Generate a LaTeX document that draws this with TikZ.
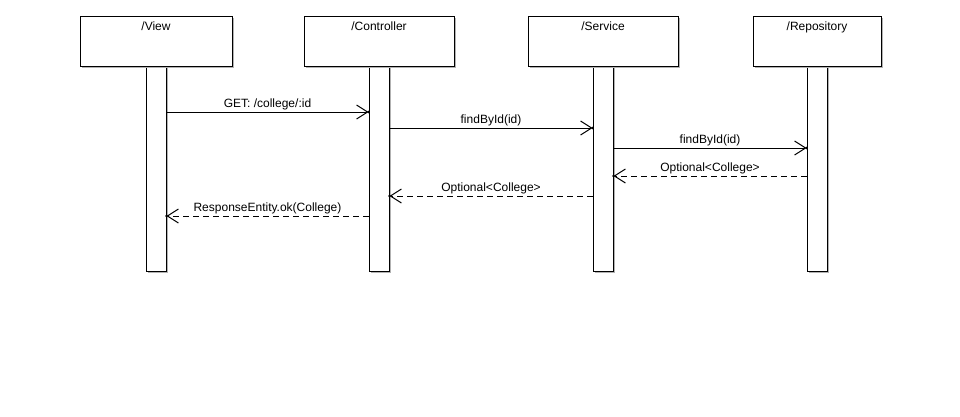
\documentclass[tikz,border=0pt]{standalone}
\usepackage{fontspec}
\setmainfont{Liberation Sans}
\usetikzlibrary{arrows.meta,shadows}
\begin{document}
\begin{tikzpicture}[x=1pt,y=-1pt,
  shade box/.style={draw=black,line width=1pt,fill=white,inner sep=0pt,
    drop shadow={shadow xshift=1.5pt,shadow yshift=-1.5pt,fill=black!30,opacity=1}},
  lifebox/.style={shade box,minimum height=50pt},
  actbar/.style={shade box,minimum width=20pt,minimum height=205pt},
  title/.style={anchor=base,inner sep=0pt,font=\fontsize{12}{14}\selectfont},
  msglabel/.style={pos=0.5,anchor=base,yshift=5pt,inner sep=0pt,font=\fontsize{12}{14}\selectfont},
  call/.style={line width=1pt,-{Straight Barb[length=11pt,width=14pt,line width=1pt]}},
  reply/.style={call,dash pattern=on 6pt off 4pt},
  tipdot/.style={fill=black}
]
\useasboundingbox[fill=white] (0,0) rectangle (960,416);

% activation bars
\node[actbar] (viewbar) at (156,168.5) {};
\node[actbar] (ctrlbar) at (379,168.5) {};
\node[actbar] (svcbar)  at (603,168.5) {};
\node[actbar] (repobar) at (817,168.5) {};

% lifeline heads
\node[lifebox,minimum width=152pt] (view) at (156,41) {};
\node[lifebox,minimum width=150pt] (ctrl) at (379,41) {};
\node[lifebox,minimum width=150pt] (svc)  at (603,41) {};
\node[lifebox,minimum width=128pt] (repo) at (817,41) {};

\node[title] (viewt) at (156,30.5) {/View};
\node[title] (ctrlt) at (379,30.5) {/Controller};
\node[title] (svct)  at (603,30.5) {/Service};
\node[title] (repot) at (817,30.5) {/Repository};

% message end points
\coordinate (m1s) at (viewbar.east |- 0,112);
\coordinate (m1e) at (ctrlbar.west |- 0,112);
\coordinate (m2s) at (ctrlbar.east |- 0,128);
\coordinate (m2e) at (svcbar.west |- 0,128);
\coordinate (m3s) at (svcbar.east |- 0,148);
\coordinate (m3e) at (repobar.west |- 0,148);
\coordinate (m4s) at (repobar.west |- 0,176);
\coordinate (m4e) at (svcbar.east |- 0,176);
\coordinate (m5s) at (svcbar.west |- 0,196);
\coordinate (m5e) at (ctrlbar.east |- 0,196);
\coordinate (m6s) at (ctrlbar.west |- 0,216);
\coordinate (m6e) at (viewbar.east |- 0,216);

\draw[call]  (m1s) -- (m1e) node[msglabel] {GET: /college/:id};
\draw[call]  (m2s) -- (m2e) node[msglabel] {findById(id)};
\draw[call]  (m3s) -- (m3e) node[msglabel] {findById(id)};
\draw[reply] (m4s) -- (m4e) node[msglabel] {Optional<College>};
\draw[reply] (m5s) -- (m5e) node[msglabel] {Optional<College>};
\draw[reply] (m6s) -- (m6e) node[msglabel] {ResponseEntity.ok(College)};

\foreach \p in {m1e,m2e,m3e,m4e,m5e,m6e}
  \fill[tipdot] (\p) circle (1.3pt);
\end{tikzpicture}
\end{document}
